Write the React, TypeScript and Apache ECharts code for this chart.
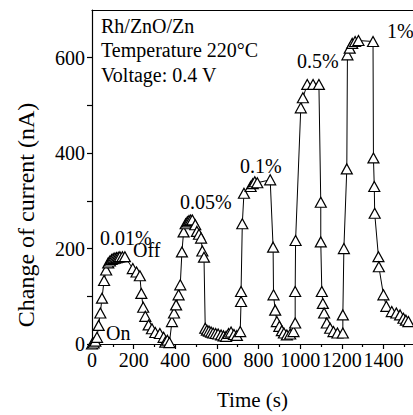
import React, { useEffect, useRef } from "react";
import * as echarts from "echarts";

const timeS = [
  0, 8, 16, 24, 32, 40, 48, 58, 68, 78, 86, 94, 102, 110, 118, 126, 134, 146, 158,
  196, 214, 230, 237, 246, 256, 272, 288, 304, 326, 344, 352, 362, 372,
  384, 394, 404, 416, 424, 432, 440, 450, 458, 466, 474, 482, 496, 504, 514, 524, 530, 538,
  544, 552, 562, 572, 582, 594, 606, 620, 632, 644, 656, 668, 682, 696, 712,
  716, 716, 722, 730,
  762, 772, 782, 794, 856,
  870, 872, 880, 888, 900, 912, 922, 936, 952, 968, 976, 976, 978,
  1003, 1013, 1034, 1062, 1090,
  1099, 1099, 1104, 1109, 1115, 1128, 1144, 1160, 1179, 1205, 1205, 1210, 1224,
  1227, 1238, 1250, 1264, 1280, 1350,
  1352, 1356, 1358, 1376, 1378, 1400, 1414, 1440, 1462, 1480, 1496, 1508, 1520,
];

const currentNA = [
  0, 2, 6, 14, 39, 65, 96, 133, 155, 170, 174, 177, 179, 180, 181, 182, 183, 183, 183,
  158, 151, 143, 106, 77, 58, 40, 32, 24, 22, 14, 4, 8, 3,
  47, 65, 82, 103, 124, 193, 235, 252, 256, 259, 260, 260, 250, 236, 230, 222, 195, 182,
  33, 29, 27, 25, 23, 22, 21, 19, 17, 16, 22, 25, 20, 18, 26,
  89, 110, 252, 316,
  330, 336, 340, 338, 344,
  203, 103, 71, 47, 37, 28, 23, 19, 21, 26, 44, 110, 217,
  495, 516, 544, 544, 544,
  297, 214, 110, 85, 65, 44, 33, 26, 23, 23, 61, 200, 367,
  606, 620, 630, 634, 636, 634,
  390, 330, 274, 183, 162, 103, 79, 68, 65, 61, 54, 50, 47,
];

const xMajorTicks = [0, 200, 400, 600, 800, 1000, 1200, 1400];
const xMinorTicks = [100, 300, 500, 700, 900, 1100, 1300, 1500];
const yTicks = [0, 100, 200, 300, 400, 500, 600];
const yLabels = [0, 200, 400, 600];

const infoLines = ["Rh/ZnO/Zn", "Temperature 220°C", "Voltage: 0.4 V"];
const concLabels = ["0.01%", "0.05%", "0.1%", "0.5%", "1%"];
const switchLabels = ["On", "Off"];

const FONT = "'Liberation Serif', 'Times New Roman', serif";

export default function App() {
  const ref = useRef<HTMLDivElement>(null);
  useEffect(() => {
    if (!ref.current) return;
    const chart = echarts.init(ref.current, undefined, { renderer: "svg" });
    const data = timeS.map((t, i) => [t, currentNA[i]]);
    const txt = (text: string, x: number, y: number, size = 20, extra: any = {}) => ({
      type: "text",
      x,
      y,
      z: 100,
      ...extra,
      style: {
        text,
        fill: "#000",
        font: `${size}px ${FONT}`,
        align: extra.align || "left",
        verticalAlign: "middle",
      },
    });
    const base = {
      type: "value",
      min: 0,
      max: 1542,
      interval: 200,
      splitLine: { show: false },
    };
    chart.setOption({
      animation: false,
      backgroundColor: "#fff",
      grid: { left: 92, top: 10, width: 321, height: 336.5, containLabel: false },
      xAxis: [
        {
          ...base,
          position: "bottom",
          axisLine: { lineStyle: { color: "#000", width: 1.2 } },
          axisTick: { customValues: xMajorTicks, length: 5, lineStyle: { color: "#000", width: 1.2 } },
          axisLabel: {
            customValues: xMajorTicks,
            interval: 0,
            hideOverlap: false,
            formatter: (v: number) => String(v),
            color: "#000",
            fontFamily: FONT,
            fontSize: 20,
            margin: 6,
          },
          name: "Time (s)",
          nameLocation: "middle",
          nameGap: 45,
          nameTextStyle: { color: "#000", fontFamily: FONT, fontSize: 21 },
        },
        {
          ...base,
          position: "bottom",
          axisLine: { show: false },
          axisTick: { customValues: xMinorTicks, length: 3, lineStyle: { color: "#000", width: 1.2 } },
          axisLabel: { show: false },
        },
        {
          ...base,
          position: "top",
          axisLine: { lineStyle: { color: "#000", width: 1.2 } },
          axisTick: { show: false },
          axisLabel: { show: false },
        },
      ],
      yAxis: {
        type: "value",
        min: 0,
        max: 700,
        interval: 100,
        splitLine: { show: false },
        axisLine: { lineStyle: { color: "#000", width: 1.2 } },
        axisTick: { customValues: yTicks, length: 5, lineStyle: { color: "#000", width: 1.2 } },
        axisLabel: {
          customValues: yLabels,
          formatter: (v: number) => String(v),
          color: "#000",
          fontFamily: FONT,
          fontSize: 20,
          margin: 7,
        },
      },
      series: [
        {
          type: "line",
          data,
          xAxisIndex: 0,
          symbol: "triangle",
          symbolSize: [11, 10],
          showAllSymbol: true,
          lineStyle: { color: "#000", width: 1 },
          itemStyle: { color: "#fff", borderColor: "#000", borderWidth: 1.2 },
          emphasis: { disabled: true },
          z: 3,
        },
      ],
      graphic: [
        txt(infoLines[0], 101, 26),
        txt(infoLines[1], 101, 50),
        txt(infoLines[2], 101, 75),
        txt(concLabels[0], 100, 238),
        txt(concLabels[1], 180, 202),
        txt(concLabels[2], 240, 166),
        txt(concLabels[3], 297, 61),
        txt(concLabels[4], 387, 31),
        txt(switchLabels[0], 106, 333),
        txt(switchLabels[1], 133, 250),
        txt("Change of current (nA)", 26, 215, 24, { rotation: Math.PI / 2, align: "center" }),
      ],
    });
    return () => chart.dispose();
  }, []);
  return (
    <div
      ref={ref}
      style={{ position: "fixed", left: 0, top: 0, width: 413, height: 415, background: "#fff" }}
    />
  );
}
